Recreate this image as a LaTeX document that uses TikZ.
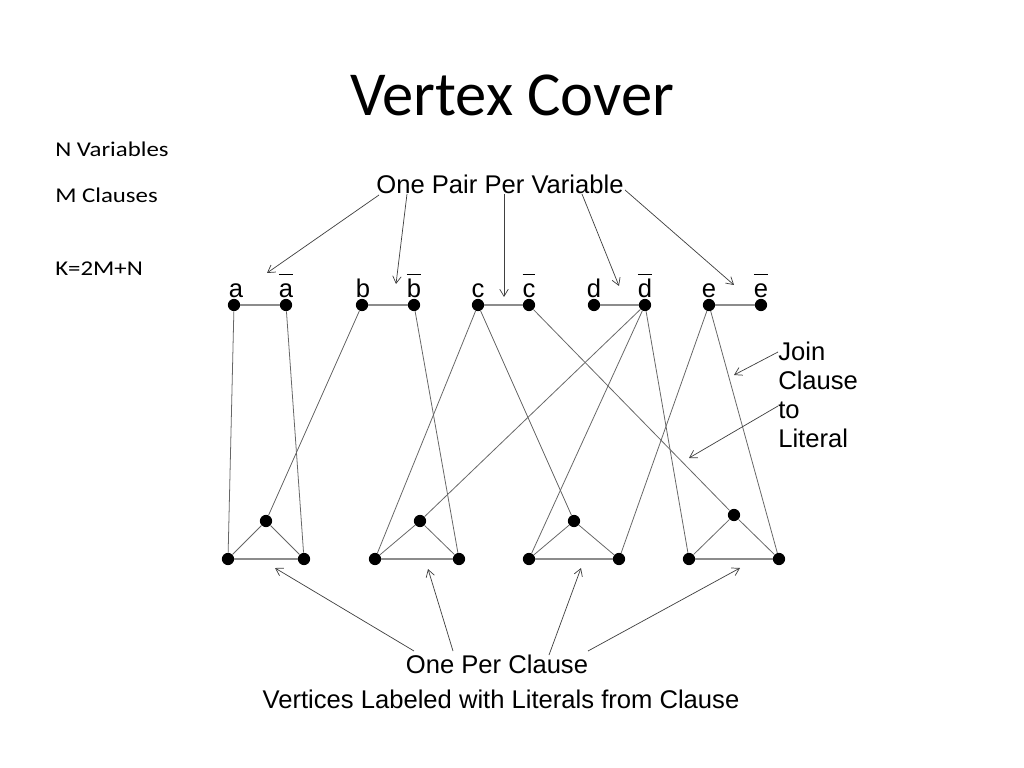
\documentclass[tikz,border=0pt]{standalone}
\usepackage{fontspec}
\setmainfont{Liberation Sans}
\newfontfamily\calibri{Carlito}
\usetikzlibrary{arrows.meta}
\begin{document}
\begin{tikzpicture}[x=0.703125pt,y=-0.703125pt,
  vtx/.style={circle,fill=black,inner sep=0pt,minimum size=8.6pt},
  edge/.style={black!60,line width=0.55pt},
  pairedge/.style={black!45,line width=0.8pt},
  pointer/.style={black!75,line width=0.5pt,-{Straight Barb[length=5pt,width=6pt]}},
  lbl/.style={inner sep=0pt,anchor=base,font=\fontsize{18}{21.6}\selectfont},
  arial/.style={inner sep=0pt,font=\fontsize{18}{21.6}\selectfont},
  lefttext/.style={inner sep=0pt,anchor=base west,font=\calibri\fontsize{14.8}{17}\selectfont}]
\useasboundingbox[fill=white] (0,0) rectangle (1024,768);
\newcommand{\nbar}[1]{$\overline{\mbox{#1}\rule{0pt}{14.6pt}}$}
% title and left texts
\node[inner sep=0pt,anchor=base,font=\calibri\fontsize{44}{52}\selectfont] (title) at (512,116) {Vertex Cover};
\node[lefttext] (nv) at (55,157) {\scalebox{1.18}[1]{N Variables}};
\node[lefttext] (mc) at (55,203) {\scalebox{1.18}[1]{M Clauses}};
\node[lefttext] (kk) at (55,276) {\scalebox{1.18}[1]{K=2M+N}};
% top vertices
\foreach \n/\x in {a/234,A/286,b/362,B/414,c/478,C/529,d/594,D/645,e/709,E/761}
  \node[vtx] (\n) at (\x,305) {};
\node[lbl] (la) at (236,297) {a};
\node[lbl] (lA) at (286,297) {\nbar{a}};
\node[lbl] (lb) at (363,297) {b};
\node[lbl] (lB) at (414,297) {\nbar{b}};
\node[lbl] (lc) at (478,297) {c};
\node[lbl] (lC) at (529,297) {\nbar{c}};
\node[lbl] (ld) at (594,297) {d};
\node[lbl] (lD) at (645,297) {\nbar{d}};
\node[lbl] (le) at (709,297) {e};
\node[lbl] (lE) at (761,297) {\nbar{e}};
% clause vertices
\node[vtx] (p1) at (228,559) {};
\node[vtx] (q1) at (304,559) {};
\node[vtx] (t1) at (266,521) {};
\node[vtx] (p2) at (375,559) {};
\node[vtx] (q2) at (459,559) {};
\node[vtx] (t2) at (420,521) {};
\node[vtx] (p3) at (529,559) {};
\node[vtx] (q3) at (619,559) {};
\node[vtx] (t3) at (574,521) {};
\node[vtx] (p4) at (689,559) {};
\node[vtx] (q4) at (779,559) {};
\node[vtx] (t4) at (734,515) {};
% pair edges
\foreach \u/\v in {a/A,b/B,c/C,d/D,e/E} \draw[pairedge] (\u) -- (\v);
% triangle edges
\foreach \i in {1,2,3,4} {
  \draw[pairedge] (p\i) -- (q\i);
  \draw[edge] (p\i) -- (t\i) -- (q\i);
}
% literal edges
\foreach \u/\v in {a/p1,A/q1,b/t1,B/q2,c/p2,c/t3,C/t4,D/t2,D/p3,D/p4,e/q3,e/q4}
  \draw[edge] (\u) -- (\v);
% labels with pointers
\node[arial,anchor=base] (pair) at (500,194) {One Pair Per Variable};
\coordinate (s1) at (379,195);
\coordinate (s2) at (407,194);
\coordinate (s3) at (504,194);
\coordinate (s4) at (582,194);
\coordinate (s5) at (625,190);
\coordinate (e1) at (267,273);
\coordinate (e2) at (396,284);
\coordinate (e3) at (504,297);
\coordinate (e4) at (619,286);
\coordinate (e5) at (734,285);
\foreach \i in {1,...,5} \draw[pointer] (s\i) -- (e\i);
\node[arial,anchor=north west,align=left,font=\fontsize{18}{20.4}\selectfont] (join) at (778,342) {Join\\Clause\\to\\Literal};
\coordinate (j1) at (778,352);
\coordinate (j2) at (778,406);
\coordinate (k1) at (734,375);
\coordinate (k2) at (689,458);
\draw[pointer] (j1) -- (k1);
\draw[pointer] (j2) -- (k2);
\node[arial,anchor=base] (opc) at (497,673) {One Per Clause};
\node[arial,anchor=base] (vlab) at (501,708) {Vertices Labeled with Literals from Clause};
\coordinate (o1) at (414,651);
\coordinate (o2) at (453,651);
\coordinate (o3) at (549,655);
\coordinate (o4) at (588,651);
\coordinate (r1) at (275,568);
\coordinate (r2) at (428,569);
\coordinate (r3) at (581,568);
\coordinate (r4) at (740,568);
\foreach \i in {1,...,4} \draw[pointer] (o\i) -- (r\i);
\end{tikzpicture}
\end{document}
